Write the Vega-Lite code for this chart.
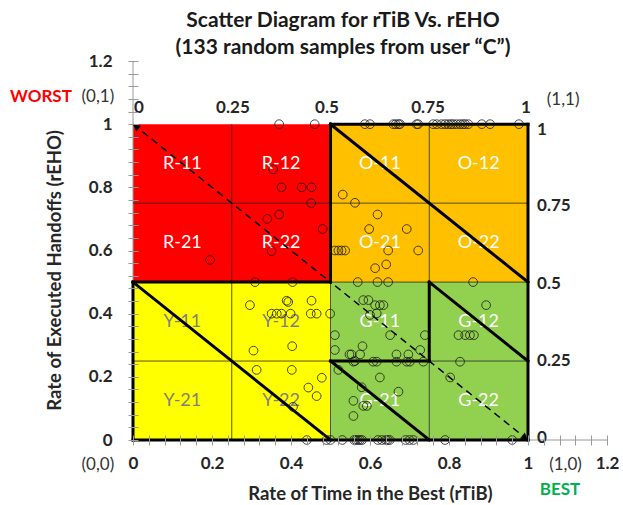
{
  "$schema": "https://vega.github.io/schema/vega-lite/v6.json",
  "autosize": {"type": "none"},
  "width": 474,
  "height": 379,
  "padding": {"left": 133, "top": 61, "right": 16, "bottom": 65},
  "background": "white",
  "config": {"view": {"stroke": null}},
  "title": {
    "text": ["Scatter Diagram for rTiB Vs. rEHO", "(133 random samples from user \u201cC\u201d)"],
    "anchor": "middle", "frame": "group", "dx": -27, "offset": -6,
    "font": "Lato", "fontSize": 21, "fontWeight": "bold", "color": "#1a1a1a", "lineHeight": 27
  },
  "datasets": {
    "zones": [
      {"x": 0, "x2": 0.5, "y": 0.5, "y2": 1, "zone": "R"},
      {"x": 0.5, "x2": 1, "y": 0.5, "y2": 1, "zone": "O"},
      {"x": 0, "x2": 0.5, "y": 0, "y2": 0.5, "zone": "Y"},
      {"x": 0.5, "x2": 1, "y": 0, "y2": 0.5, "zone": "G"}
    ],
    "segments": [
      {"kind": "axis", "x": 0, "y": 0, "x2": 1.2, "y2": 0},
      {"kind": "axis", "x": 0, "y": 0, "x2": 0, "y2": 1.2},
      {"kind": "grid", "x": 0.25, "y": 0, "x2": 0.25, "y2": 1},
      {"kind": "grid", "x": 0.5, "y": 0, "x2": 0.5, "y2": 1},
      {"kind": "grid", "x": 0.75, "y": 0, "x2": 0.75, "y2": 1},
      {"kind": "grid", "x": 0, "y": 0.25, "x2": 1, "y2": 0.25},
      {"kind": "grid", "x": 0, "y": 0.5, "x2": 1, "y2": 0.5},
      {"kind": "grid", "x": 0, "y": 0.75, "x2": 1, "y2": 0.75},
      {"kind": "thick", "x": 0, "y": 0.5, "x2": 0.5, "y2": 0.5},
      {"kind": "thick", "x": 0.5, "y": 0.5, "x2": 0.5, "y2": 1},
      {"kind": "thick", "x": 0.5, "y": 1, "x2": 1, "y2": 1},
      {"kind": "thick", "x": 1, "y": 1, "x2": 1, "y2": 0},
      {"kind": "thick", "x": 1, "y": 0, "x2": 0, "y2": 0},
      {"kind": "thick", "x": 0, "y": 0, "x2": 0, "y2": 0.5},
      {"kind": "thick", "x": 0.5, "y": 0.25, "x2": 0.75, "y2": 0.25},
      {"kind": "thick", "x": 0.75, "y": 0.25, "x2": 0.75, "y2": 0.5},
      {"kind": "thick", "x": 0.5, "y": 1, "x2": 1, "y2": 0.5},
      {"kind": "thick", "x": 0, "y": 0.5, "x2": 0.5, "y2": 0},
      {"kind": "thick", "x": 0.75, "y": 0.5, "x2": 1, "y2": 0.25},
      {"kind": "thick", "x": 0.5, "y": 0.25, "x2": 0.75, "y2": 0},
      {"kind": "dash", "dir": "ul", "x": 0, "y": 1, "x2": 0.5, "y2": 0.5},
      {"kind": "dash", "dir": "dr", "x": 1, "y": 0, "x2": 0.5, "y2": 0.5}
    ],
    "labels": [
      {"x": 0.125, "y": 0.875, "t": "R-11", "tone": "light"},
      {"x": 0.375, "y": 0.875, "t": "R-12", "tone": "light"},
      {"x": 0.125, "y": 0.625, "t": "R-21", "tone": "light"},
      {"x": 0.375, "y": 0.625, "t": "R-22", "tone": "light"},
      {"x": 0.625, "y": 0.875, "t": "O-11", "tone": "light"},
      {"x": 0.875, "y": 0.875, "t": "O-12", "tone": "light"},
      {"x": 0.625, "y": 0.625, "t": "O-21", "tone": "light"},
      {"x": 0.875, "y": 0.625, "t": "O-22", "tone": "light"},
      {"x": 0.125, "y": 0.375, "t": "Y-11", "tone": "dark"},
      {"x": 0.375, "y": 0.375, "t": "Y-12", "tone": "dark"},
      {"x": 0.125, "y": 0.125, "t": "Y-21", "tone": "dark"},
      {"x": 0.375, "y": 0.125, "t": "Y-22", "tone": "dark"},
      {"x": 0.625, "y": 0.375, "t": "G-11", "tone": "light"},
      {"x": 0.875, "y": 0.375, "t": "G-12", "tone": "light"},
      {"x": 0.625, "y": 0.125, "t": "G-21", "tone": "light"},
      {"x": 0.875, "y": 0.125, "t": "G-22", "tone": "light"}
    ],
    "notes": [
      {"g": "top", "x": 0.015, "y": 1.05, "t": "0"},
      {"g": "top", "x": 0.253, "y": 1.05, "t": "0.25"},
      {"g": "top", "x": 0.491, "y": 1.05, "t": "0.5"},
      {"g": "top", "x": 0.747, "y": 1.05, "t": "0.75"},
      {"g": "top", "x": 0.995, "y": 1.05, "t": "1"},
      {"g": "right", "x": 1.023, "y": 0.98, "t": "1"},
      {"g": "right", "x": 1.023, "y": 0.74, "t": "0.75"},
      {"g": "right", "x": 1.023, "y": 0.495, "t": "0.5"},
      {"g": "right", "x": 1.023, "y": 0.25, "t": "0.25"},
      {"g": "right", "x": 1.023, "y": 0.005, "t": "0"},
      {"g": "corner", "x": -0.089, "y": 1.085, "t": "(0,1)"},
      {"g": "corner", "x": 1.089, "y": 1.076, "t": "(1,1)"},
      {"g": "corner", "x": -0.089, "y": -0.079, "t": "(0,0)"},
      {"g": "corner", "x": 1.095, "y": -0.079, "t": "(1,0)"},
      {"g": "worst", "x": -0.233, "y": 1.085, "t": "WORST"},
      {"g": "best", "x": 1.081, "y": -0.158, "t": "BEST"}
    ],
    "points": [
      {"x": 0.37, "y": 1}, {"x": 0.46, "y": 1}, {"x": 0.355, "y": 0.857}, {"x": 0.376, "y": 0.8},
      {"x": 0.427, "y": 0.8}, {"x": 0.452, "y": 0.8}, {"x": 0.451, "y": 0.75}, {"x": 0.37, "y": 0.714},
      {"x": 0.34, "y": 0.7}, {"x": 0.48, "y": 0.668}, {"x": 0.351, "y": 0.598}, {"x": 0.195, "y": 0.57},
      {"x": 0.309, "y": 0.5}, {"x": 0.404, "y": 0.5},
      {"x": 0.587, "y": 1}, {"x": 0.6, "y": 1}, {"x": 0.659, "y": 1}, {"x": 0.665, "y": 1},
      {"x": 0.672, "y": 1}, {"x": 0.676, "y": 1}, {"x": 0.718, "y": 1}, {"x": 0.722, "y": 1},
      {"x": 0.76, "y": 1}, {"x": 0.769, "y": 1}, {"x": 0.781, "y": 1}, {"x": 0.79, "y": 1},
      {"x": 0.798, "y": 1}, {"x": 0.805, "y": 1}, {"x": 0.811, "y": 1}, {"x": 0.819, "y": 1},
      {"x": 0.828, "y": 1}, {"x": 0.835, "y": 1}, {"x": 0.841, "y": 1}, {"x": 0.849, "y": 1},
      {"x": 0.883, "y": 1}, {"x": 0.904, "y": 1}, {"x": 0.977, "y": 1},
      {"x": 0.531, "y": 0.777}, {"x": 0.562, "y": 0.751}, {"x": 0.619, "y": 0.714}, {"x": 0.598, "y": 0.668},
      {"x": 0.693, "y": 0.668}, {"x": 0.511, "y": 0.6}, {"x": 0.52, "y": 0.6}, {"x": 0.528, "y": 0.6},
      {"x": 0.537, "y": 0.6}, {"x": 0.646, "y": 0.6}, {"x": 0.722, "y": 0.6}, {"x": 0.641, "y": 0.556},
      {"x": 0.613, "y": 0.544}, {"x": 0.569, "y": 0.5}, {"x": 0.619, "y": 0.5}, {"x": 0.646, "y": 0.5},
      {"x": 0.861, "y": 0.5},
      {"x": 0.296, "y": 0.427}, {"x": 0.389, "y": 0.441}, {"x": 0.393, "y": 0.437}, {"x": 0.452, "y": 0.441},
      {"x": 0.351, "y": 0.4}, {"x": 0.364, "y": 0.4}, {"x": 0.376, "y": 0.4}, {"x": 0.399, "y": 0.4},
      {"x": 0.45, "y": 0.4}, {"x": 0.465, "y": 0.4}, {"x": 0.499, "y": 0.4}, {"x": 0.305, "y": 0.283},
      {"x": 0.403, "y": 0.297}, {"x": 0.313, "y": 0.222}, {"x": 0.402, "y": 0.222}, {"x": 0.478, "y": 0.197},
      {"x": 0.444, "y": 0.166}, {"x": 0.465, "y": 0.139}, {"x": 0.405, "y": 0.105},
      {"x": 0.44, "y": 0}, {"x": 0.49, "y": 0}, {"x": 0.5, "y": 0}, {"x": 0.53, "y": 0},
      {"x": 0.56, "y": 0}, {"x": 0.565, "y": 0}, {"x": 0.57, "y": 0}, {"x": 0.575, "y": 0},
      {"x": 0.58, "y": 0}, {"x": 0.62, "y": 0}, {"x": 0.63, "y": 0}, {"x": 0.64, "y": 0},
      {"x": 0.645, "y": 0}, {"x": 0.65, "y": 0}, {"x": 0.69, "y": 0}, {"x": 0.7, "y": 0},
      {"x": 0.71, "y": 0}, {"x": 0.79, "y": 0}, {"x": 0.96, "y": 0},
      {"x": 0.583, "y": 0.443}, {"x": 0.596, "y": 0.443}, {"x": 0.613, "y": 0.427}, {"x": 0.625, "y": 0.427},
      {"x": 0.634, "y": 0.427}, {"x": 0.617, "y": 0.401}, {"x": 0.6, "y": 0.396}, {"x": 0.894, "y": 0.427},
      {"x": 0.824, "y": 0.332}, {"x": 0.841, "y": 0.332}, {"x": 0.853, "y": 0.332}, {"x": 0.863, "y": 0.332},
      {"x": 0.511, "y": 0.332}, {"x": 0.651, "y": 0.332}, {"x": 0.739, "y": 0.332}, {"x": 0.511, "y": 0.285},
      {"x": 0.581, "y": 0.297}, {"x": 0.548, "y": 0.271}, {"x": 0.553, "y": 0.271}, {"x": 0.575, "y": 0.271},
      {"x": 0.667, "y": 0.271}, {"x": 0.697, "y": 0.271}, {"x": 0.727, "y": 0.285}, {"x": 0.558, "y": 0.248},
      {"x": 0.562, "y": 0.25}, {"x": 0.608, "y": 0.248}, {"x": 0.617, "y": 0.248}, {"x": 0.667, "y": 0.248},
      {"x": 0.693, "y": 0.248}, {"x": 0.701, "y": 0.248}, {"x": 0.735, "y": 0.248}, {"x": 0.828, "y": 0.248},
      {"x": 0.52, "y": 0.222}, {"x": 0.625, "y": 0.198}, {"x": 0.803, "y": 0.198}, {"x": 0.579, "y": 0.167},
      {"x": 0.672, "y": 0.153}, {"x": 0.558, "y": 0.124}, {"x": 0.583, "y": 0.108}, {"x": 0.592, "y": 0.108},
      {"x": 0.558, "y": 0.076}
    ]
  },
  "encoding": {
    "x": {
      "field": "x", "type": "quantitative",
      "scale": {"domain": [0, 1.2], "nice": false, "zero": false},
      "axis": {
        "title": "Rate of Time in the Best (rTiB)",
        "values": [0,0.04,0.08,0.12,0.16,0.2,0.24,0.28,0.32,0.36,0.4,0.44,0.48,0.52,0.56,0.6,0.64,0.68,0.72,0.76,0.8,0.84,0.88,0.92,0.96,1,1.04,1.08,1.12,1.16,1.2],
        "labelExpr": "abs(datum.value*5-round(datum.value*5))<0.001 ? format(datum.value,'~g') : ''",
        "offset": -5, "tickSize": 10, "tickColor": "#9a9a9a", "domain": false, "grid": false,
        "labelFont": "Lato", "labelFontSize": 17, "labelFontWeight": "bold", "labelColor": "#262626",
        "labelPadding": 10, "labelOverlap": false, "labelFlush": false,
        "titleFont": "Lato", "titleFontSize": 18.5, "titleFontWeight": "bold", "titleColor": "#262626",
        "titleY": 58, "titleBaseline": "middle", "zindex": 1
      }
    },
    "y": {
      "field": "y", "type": "quantitative",
      "scale": {"domain": [0, 1.2], "nice": false, "zero": false},
      "axis": {
        "title": "Rate of Executed Handoffs (rEHO)",
        "values": [0,0.04,0.08,0.12,0.16,0.2,0.24,0.28,0.32,0.36,0.4,0.44,0.48,0.52,0.56,0.6,0.64,0.68,0.72,0.76,0.8,0.84,0.88,0.92,0.96,1,1.04,1.08,1.12,1.16,1.2],
        "labelExpr": "abs(datum.value*5-round(datum.value*5))<0.001 ? format(datum.value,'~g') : ''",
        "offset": -5, "tickSize": 10, "tickColor": "#9a9a9a", "domain": false, "grid": false,
        "labelFont": "Lato", "labelFontSize": 17, "labelFontWeight": "bold", "labelColor": "#262626",
        "labelPadding": 16, "labelOverlap": false, "labelFlush": false,
        "titleFont": "Lato", "titleFontSize": 18.5, "titleFontWeight": "bold", "titleColor": "#262626",
        "titleX": -84, "titleY": 209, "titleBaseline": "middle", "titleAlign": "center", "zindex": 1
      }
    }
  },
  "layer": [
    {
      "data": {"name": "zones"},
      "mark": {"type": "rect"},
      "encoding": {
        "x2": {"field": "x2"}, "y2": {"field": "y2"},
        "color": {"field": "zone", "type": "nominal", "legend": null,
          "scale": {"domain": ["R", "O", "Y", "G"], "range": ["#FF0000", "#FFC000", "#FFFF00", "#92D050"]}}
      }
    },
    {
      "data": {"name": "segments"},
      "transform": [{"filter": "datum.kind === 'axis'"}],
      "mark": {"type": "rule", "color": "#9a9a9a", "strokeWidth": 1},
      "encoding": {"x2": {"field": "x2"}, "y2": {"field": "y2"}}
    },
    {
      "data": {"name": "segments"},
      "transform": [{"filter": "datum.kind === 'grid'"}],
      "mark": {"type": "rule", "color": "#2a2a2a", "strokeWidth": 0.8},
      "encoding": {"x2": {"field": "x2"}, "y2": {"field": "y2"}}
    },
    {
      "data": {"name": "labels"},
      "transform": [{"filter": "datum.tone === 'light'"}],
      "mark": {"type": "text", "font": "Lato", "fontSize": 18, "color": "#ffffff", "align": "center", "baseline": "middle"},
      "encoding": {"text": {"field": "t"}}
    },
    {
      "data": {"name": "labels"},
      "transform": [{"filter": "datum.tone === 'dark'"}],
      "mark": {"type": "text", "font": "Lato", "fontSize": 18, "color": "#7f7f7f", "align": "center", "baseline": "middle"},
      "encoding": {"text": {"field": "t"}}
    },
    {
      "data": {"name": "segments"},
      "transform": [{"filter": "datum.kind === 'dash'"}],
      "mark": {"type": "rule", "color": "#000000", "strokeWidth": 1.5, "strokeDash": [7, 5]},
      "encoding": {"x2": {"field": "x2"}, "y2": {"field": "y2"}}
    },
    {
      "data": {"name": "segments"},
      "transform": [{"filter": "datum.kind === 'dash' && datum.dir === 'ul'"}],
      "mark": {"type": "point", "shape": "triangle-up", "filled": true, "color": "#000000", "opacity": 1, "size": 60, "angle": -51, "xOffset": 3, "yOffset": 2.4},
      "encoding": {}
    },
    {
      "data": {"name": "segments"},
      "transform": [{"filter": "datum.kind === 'dash' && datum.dir === 'dr'"}],
      "mark": {"type": "point", "shape": "triangle-up", "filled": true, "color": "#000000", "opacity": 1, "size": 60, "angle": 129, "xOffset": -3, "yOffset": -2.4},
      "encoding": {}
    },
    {
      "data": {"name": "segments"},
      "transform": [{"filter": "datum.kind === 'thick'"}],
      "mark": {"type": "rule", "color": "#000000", "strokeWidth": 3, "strokeCap": "square"},
      "encoding": {"x2": {"field": "x2"}, "y2": {"field": "y2"}}
    },
    {
      "data": {"name": "notes"},
      "transform": [{"filter": "datum.g === 'top'"}],
      "mark": {"type": "text", "font": "Lato", "fontSize": 17, "fontWeight": "bold", "color": "#262626", "align": "center", "baseline": "middle"},
      "encoding": {"text": {"field": "t"}}
    },
    {
      "data": {"name": "notes"},
      "transform": [{"filter": "datum.g === 'right'"}],
      "mark": {"type": "text", "font": "Lato", "fontSize": 17, "fontWeight": "bold", "color": "#262626", "align": "left", "baseline": "middle"},
      "encoding": {"text": {"field": "t"}}
    },
    {
      "data": {"name": "notes"},
      "transform": [{"filter": "datum.g === 'corner'"}],
      "mark": {"type": "text", "font": "Lato", "fontSize": 17, "color": "#333333", "align": "center", "baseline": "middle"},
      "encoding": {"text": {"field": "t"}}
    },
    {
      "data": {"name": "notes"},
      "transform": [{"filter": "datum.g === 'worst'"}],
      "mark": {"type": "text", "font": "Lato", "fontSize": 17, "fontWeight": "bold", "color": "#FF0000", "align": "center", "baseline": "middle"},
      "encoding": {"text": {"field": "t"}}
    },
    {
      "data": {"name": "notes"},
      "transform": [{"filter": "datum.g === 'best'"}],
      "mark": {"type": "text", "font": "Lato", "fontSize": 17, "fontWeight": "bold", "color": "#00B050", "align": "center", "baseline": "middle"},
      "encoding": {"text": {"field": "t"}}
    },
    {
      "data": {"name": "points"},
      "mark": {"type": "point", "shape": "circle", "filled": false, "stroke": "#1a1a1a", "strokeWidth": 1, "size": 76, "opacity": 0.8},
      "encoding": {}
    }
  ]
}
